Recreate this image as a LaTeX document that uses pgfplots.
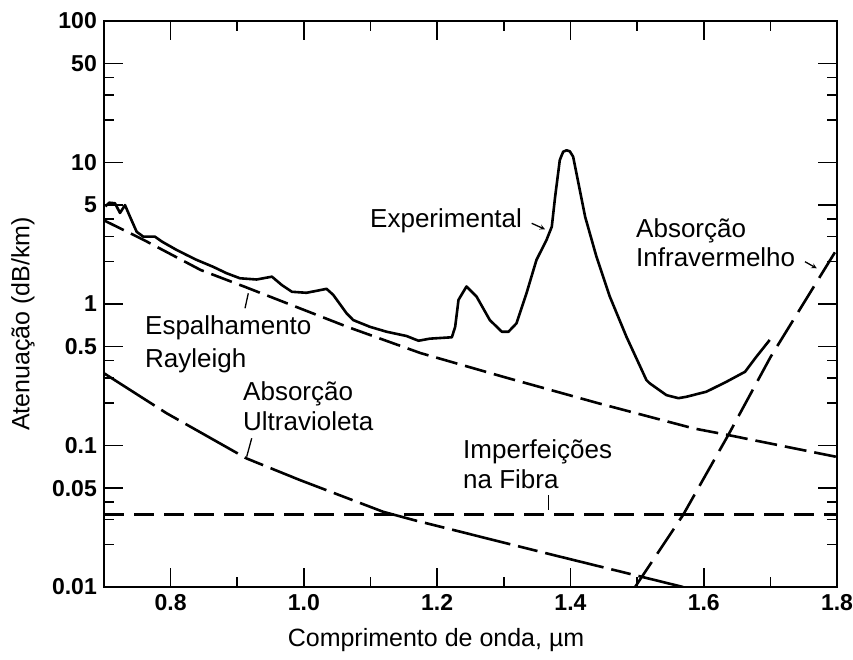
\documentclass[border=0pt]{standalone}
\usepackage{fontspec}
\setmainfont{Liberation Sans}
\usepackage{pgfplots}
\pgfplotsset{compat=1.18}
\begin{document}
\begin{tikzpicture}
\path[use as bounding box] (-104pt,-72pt) rectangle (749pt,587pt);
\begin{axis}[
  at={(0pt,0pt)}, anchor=south west,
  scale only axis, width=733pt, height=566pt,
  ymode=log, xmin=0.7, xmax=1.8, ymin=0.01, ymax=100,
  xtick={0.8,1.0,1.2,1.4,1.6,1.8}, xticklabels={0.8,1.0,1.2,1.4,1.6,1.8},
  minor xtick={0.9,1.1,1.3,1.5,1.7},
  ytick={0.01,0.05,0.1,0.5,1,5,10,50,100},
  yticklabels={0.01,0.05,0.1,0.5,1,5,10,50,100},
  minor ytick={0.02,0.03,0.04,0.2,0.3,0.4,2,3,4,20,30,40},
  tick align=inside, major tick length=19pt, minor tick length=10pt,
  tick style={black, line width=1.6pt},
  axis line style={line width=2pt},
  ticklabel style={font=\fontsize{23}{26}\selectfont\bfseries},
  xticklabel style={inner sep=0pt, yshift=-7pt},
  yticklabel style={inner sep=0pt, xshift=-7pt},
  xlabel={Comprimento de onda, µm},
  ylabel={Atenuação (dB/km)},
  label style={font=\fontsize{25}{28}\selectfont},
  xlabel style={at={(axis description cs:0.453,-0.0936)}, anchor=center},
  ylabel style={at={(axis description cs:-0.1105,0.465)}, anchor=center},
  every axis plot/.append style={black, line width=2.6pt, line join=round, mark=none},
]
% Experimental
\addplot[solid] coordinates {
(0.702,4.9) (0.708,5.2) (0.7165,5.15) (0.724,4.40) (0.7315,5.0) (0.739,4.14)
(0.749,3.24) (0.759,2.99) (0.7765,2.99) (0.787,2.76) (0.809,2.41) (0.824,2.22)
(0.839,2.05) (0.864,1.83) (0.884,1.65) (0.904,1.52) (0.929,1.49) (0.952,1.56)
(0.967,1.36) (0.982,1.22) (1.004,1.20) (1.034,1.28) (1.044,1.16) (1.064,0.86)
(1.074,0.77) (1.099,0.69) (1.124,0.637) (1.154,0.594) (1.172,0.55) (1.189,0.569)
(1.222,0.582) (1.227,0.69) (1.232,1.07) (1.244,1.33) (1.259,1.13) (1.279,0.77)
(1.297,0.637) (1.307,0.637) (1.319,0.73) (1.334,1.19) (1.349,2.05) (1.364,2.83)
(1.372,3.52) (1.377,5.73) (1.384,10.4) (1.389,11.9) (1.394,12.2) (1.399,12.0)
(1.404,11.0) (1.412,7.13) (1.422,4.14) (1.439,2.16) (1.459,1.13) (1.484,0.587)
(1.514,0.29) (1.519,0.275) (1.544,0.227) (1.562,0.216) (1.574,0.221) (1.604,0.240)
(1.634,0.282) (1.662,0.332) (1.679,0.424) (1.699,0.557)
};
% Rayleigh scattering
\addplot[dash pattern=on 22pt off 8pt] coordinates {
(0.700,3.9) (0.760,2.83) (0.845,1.74) (0.910,1.33) (1.065,0.69) (1.175,0.45)
(1.300,0.305) (1.440,0.20) (1.585,0.132) (1.635,0.119) (1.800,0.083)
};
% UV absorption
\addplot[dash pattern=on 60pt off 8pt on 20pt off 8pt] coordinates {
(0.700,0.324) (0.794,0.169) (0.914,0.081) (0.994,0.057) (1.119,0.034)
(1.164,0.0298) (1.364,0.0173) (1.569,0.0100)
};
% Fibre imperfections
\addplot[dash pattern=on 20pt off 10pt] coordinates {
(0.700,0.0325) (1.800,0.0325)
};
% IR absorption
\addplot[dash pattern=on 30pt off 10pt] coordinates {
(1.497,0.0100) (1.569,0.0323) (1.637,0.119) (1.700,0.42) (1.800,2.45)
};
\end{axis}
\begin{scope}[every node/.style={font=\fontsize{26}{30}\selectfont, inner sep=0pt, anchor=base west}]
\node at (266pt,359pt) {Experimental};
\node at (532pt,349pt) {Absorção};
\node at (532pt,320pt) {Infravermelho};
\node at (41pt,252pt) {Espalhamento};
\node at (41pt,220pt) {Rayleigh};
\node at (139pt,187pt) {Absorção};
\node at (139pt,157pt) {Ultravioleta};
\node at (359pt,129pt) {Imperfeições};
\node at (359pt,99pt) {na Fibra};
\end{scope}
\draw[line width=1.3pt, -stealth] (427.7pt,363.7pt) -- (441pt,357.7pt);
\draw[line width=1.3pt, -stealth] (701pt,325.3pt) -- (712.7pt,318.7pt);
\draw[line width=1.3pt] (144.3pt,293.7pt) -- (141pt,278.7pt);
\draw[line width=1.3pt] (147.7pt,148.7pt) -- (142.7pt,130.3pt);
\draw[line width=1.3pt] (444.3pt,92pt) -- (444.3pt,77pt);
\end{tikzpicture}
\end{document}
